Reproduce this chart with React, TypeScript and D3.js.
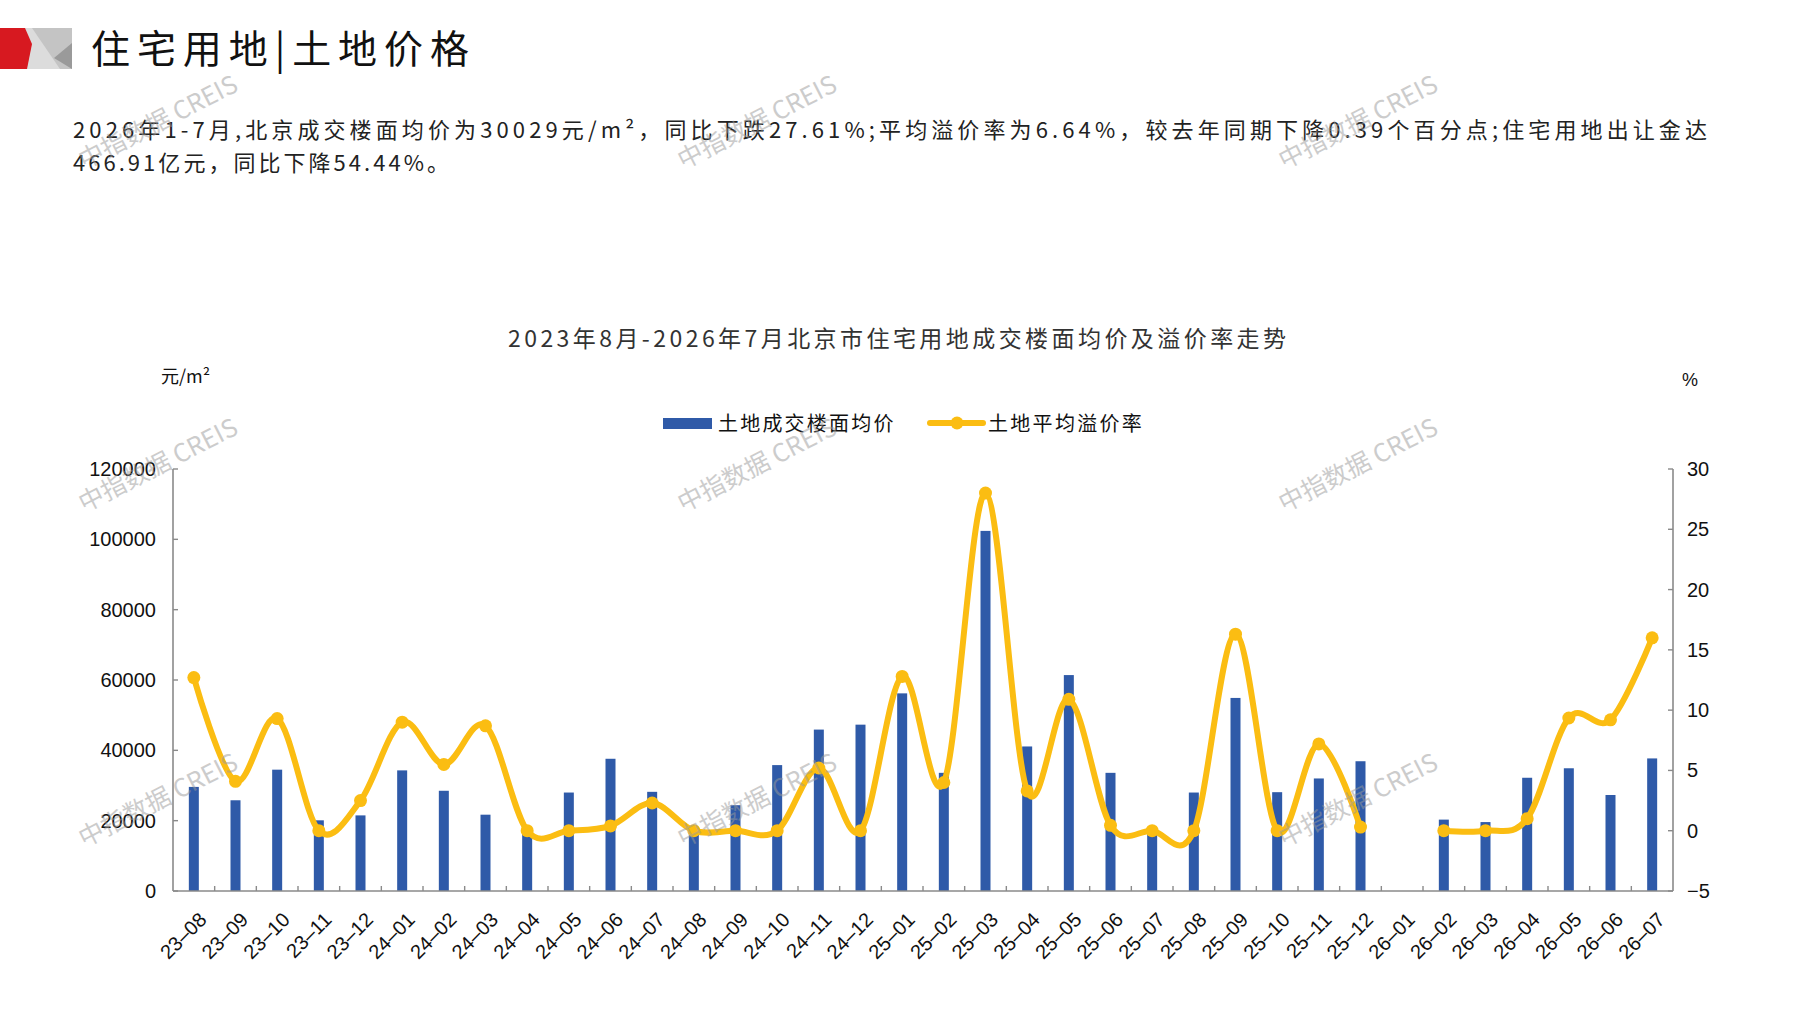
import React from "react";
import * as d3 from "d3";

const categories = [
  "23-08","23-09","23-10","23-11","23-12","24-01","24-02","24-03","24-04","24-05","24-06","24-07",
  "24-08","24-09","24-10","24-11","24-12","25-01","25-02","25-03","25-04","25-05","25-06","25-07",
  "25-08","25-09","25-10","25-11","25-12","26-01","26-02","26-03","26-04","26-05","26-06","26-07",
];

// 土地成交楼面均价 (元/m²)
const priceValues: (number | null)[] = [
  29600, 25800, 34500, 20100, 21500, 34300, 28500, 21700, 17800, 28000, 37600, 28200,
  18000, 24400, 35800, 45900, 47300, 56200, 33600, 102400, 41100, 61400, 33600, 17500,
  28000, 54900, 28100, 32000, 36900, null, 20300, 19600, 32200, 34900, 27300, 37700,
];

// 土地平均溢价率 (%)
const premiumValues: (number | null)[] = [
  12.7, 4.1, 9.3, 0.0, 2.5, 9.0, 5.5, 8.7, 0.0, 0.0, 0.4, 2.3,
  0.0, 0.0, 0.0, 5.2, 0.0, 12.8, 4.0, 28.0, 3.3, 10.9, 0.45, 0.0,
  0.0, 16.3, 0.0, 7.2, 0.3, null, 0.0, 0.0, 1.0, 9.35, 9.2, 16.0,
];

const leftTicks = [0, 20000, 40000, 60000, 80000, 100000, 120000];
const rightTicks = [-5, 0, 5, 10, 15, 20, 25, 30];

const headingText = "住宅用地|土地价格";
const paraLine1 =
  "2026年1-7月,北京成交楼面均价为30029元/m²，同比下跌27.61%;平均溢价率为6.64%，较去年同期下降0.39个百分点;住宅用地出让金达";
const paraLine2 = "466.91亿元，同比下降54.44%。";
const chartTitle = "2023年8月-2026年7月北京市住宅用地成交楼面均价及溢价率走势";
const legendBar = "土地成交楼面均价";
const legendLine = "土地平均溢价率";
const unitLeft = "元/m²";
const unitRight = "%";
const watermark = "中指数据 CREIS";

const W = 1797;
const H = 1010;
const PL = 173;
const PR = 1673;
const PT = 469;
const PB = 891;

const BLUE = "#2F5AA8";
const GOLD = "#FBBD12";
const AXIS = "#8a8a8a";
const CJK = "'Noto Sans CJK SC', 'Noto Sans', sans-serif";
const LAT = "'Liberation Sans', Arial, sans-serif";

export default function App() {
  const x = d3.scaleBand<string>().domain(categories).range([PL, PR]).paddingInner(0).paddingOuter(0);
  const yL = d3.scaleLinear().domain([0, 120000]).range([PB, PT]);
  const yR = d3.scaleLinear().domain([-5, 30]).range([PB, PT]);
  const bw = x.bandwidth();
  const cx = (c: string) => (x(c) as number) + bw / 2;
  const barW = 10;

  const pts = categories.map((c, i) => ({ c, v: premiumValues[i] }));
  const lineGen = d3
    .line<{ c: string; v: number | null }>()
    .defined((d) => d.v != null)
    .x((d) => cx(d.c))
    .y((d) => yR(d.v as number))
    .curve(d3.curveCardinal.tension(0));

  const wmPos = [
    [158, 122], [757, 122], [1358, 122],
    [158, 465], [757, 465], [1358, 465],
    [158, 800], [757, 800], [1358, 800],
  ];

  return (
    <div style={{ position: "absolute", left: 0, top: 0 }}>
      <svg width={W} height={H} style={{ display: "block", background: "#fff" }}>
        {/* logo */}
        <polygon points="22,28 72,28 72,69 22,69" fill="#c4c4c4" />
        <polygon points="22,28 32,28 60,69 22,69" fill="#dcdcdc" />
        <polygon points="72,43 54,58 72,69" fill="#9a9a9a" />
        <polygon points="0,28 25,28 32,44 27,69 0,69" fill="#d71920" />

        {/* heading */}
        <text x={91} y={63} fontFamily={CJK} fontSize={39} fill="#111" textLength={378} lengthAdjust="spacing">
          {headingText}
        </text>

        {/* paragraph */}
        <text x={73} y={138} fontFamily={CJK} fontSize={22} fill="#222" textLength={1634} lengthAdjust="spacing">
          {paraLine1}
        </text>
        <text x={73} y={171} fontFamily={CJK} fontSize={22} fill="#222" textLength={376} lengthAdjust="spacing">
          {paraLine2}
        </text>

        {/* chart title */}
        <text x={508} y={347} fontFamily={CJK} fontSize={23} fill="#333" textLength={778} lengthAdjust="spacing">
          {chartTitle}
        </text>

        {/* units */}
        <text x={161} y={383} fontFamily={CJK} fontSize={18} fill="#111">
          {unitLeft}
        </text>
        <text x={1682} y={386} fontFamily={LAT} fontSize={18} fill="#111">
          {unitRight}
        </text>

        {/* legend */}
        <rect x={663} y={418} width={49} height={11} fill={BLUE} />
        <text x={718} y={431} fontFamily={CJK} fontSize={20} fill="#111" letterSpacing={2.2}>
          {legendBar}
        </text>
        <line x1={930} x2={983} y1={423} y2={423} stroke={GOLD} strokeWidth={6} strokeLinecap="round" />
        <circle cx={957} cy={423} r={6.5} fill={GOLD} />
        <text x={988} y={431} fontFamily={CJK} fontSize={20} fill="#111" letterSpacing={2.3}>
          {legendLine}
        </text>

        {/* bars */}
        {categories.map((c, i) =>
          priceValues[i] == null ? null : (
            <rect
              key={c}
              x={cx(c) - barW / 2}
              y={yL(priceValues[i] as number)}
              width={barW}
              height={PB - yL(priceValues[i] as number)}
              fill={BLUE}
            />
          )
        )}

        {/* line */}
        <path d={lineGen(pts) || ""} fill="none" stroke={GOLD} strokeWidth={6} strokeLinejoin="round" strokeLinecap="round" />
        {pts.map((p) =>
          p.v == null ? null : <circle key={p.c} cx={cx(p.c)} cy={yR(p.v)} r={6.5} fill={GOLD} />
        )}

        {/* axes */}
        <line x1={PL} x2={PL} y1={PT} y2={PB} stroke={AXIS} strokeWidth={1.6} />
        <line x1={PR} x2={PR} y1={PT} y2={PB} stroke={AXIS} strokeWidth={1.6} />
        <line x1={PL} x2={PR} y1={PB} y2={PB} stroke={AXIS} strokeWidth={1.6} />
        {leftTicks.map((t) => (
          <g key={"l" + t}>
            <line x1={PL} x2={PL + 5} y1={yL(t)} y2={yL(t)} stroke={AXIS} strokeWidth={1.4} />
            <text x={156} y={yL(t)} dy="0.35em" textAnchor="end" fontFamily={LAT} fontSize={20} fill="#111">
              {t}
            </text>
          </g>
        ))}
        {rightTicks.map((t) => (
          <g key={"r" + t}>
            <line x1={PR - 5} x2={PR} y1={yR(t)} y2={yR(t)} stroke={AXIS} strokeWidth={1.4} />
            <text x={1687} y={yR(t)} dy="0.35em" textAnchor="start" fontFamily={LAT} fontSize={20} fill="#111">
              {t < 0 ? "\u2212" + Math.abs(t) : t}
            </text>
          </g>
        ))}
        {categories.slice(1).map((c) => (
          <line key={"t" + c} x1={x(c) as number} x2={x(c) as number} y1={PB} y2={PB - 5} stroke={AXIS} strokeWidth={1.4} />
        ))}
        {categories.map((c) => (
          <text
            key={"x" + c}
            transform={`translate(${cx(c) + 9},${PB + 25}) rotate(-45)`}
            textAnchor="end"
            dy="0.35em"
            fontFamily={LAT}
            fontSize={20}
            fill="#111"
          >
            {c.replace("-", "\u2013")}
          </text>
        ))}

        {/* watermarks */}
        {wmPos.map(([wx, wy], i) => (
          <text
            key={"wm" + i}
            transform={`translate(${wx},${wy}) rotate(-27)`}
            textAnchor="middle"
            dy="0.35em"
            fontFamily={CJK}
            fontSize={25}
            fill="#9a9a9a"
            opacity={0.5}
          >
            {watermark}
          </text>
        ))}
      </svg>
    </div>
  );
}
